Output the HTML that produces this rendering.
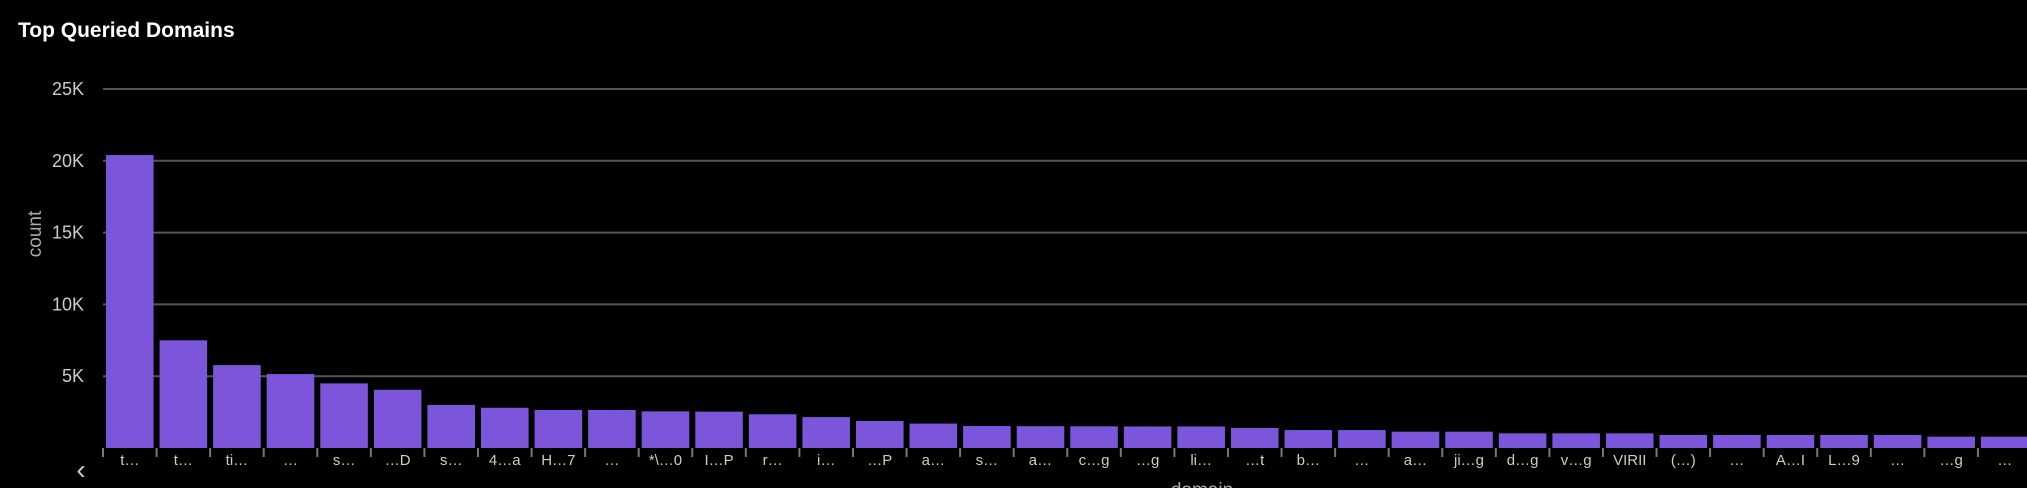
<!DOCTYPE html>
<html><head><meta charset="utf-8"><style>
html,body{margin:0;padding:0;background:#000;width:2027px;height:488px;overflow:hidden;font-family:"Liberation Sans",sans-serif}
</style></head><body>
<svg id="chart" width="2027" height="488" xmlns="http://www.w3.org/2000/svg">
<text x="18" y="37" fill="#fff" font-size="21" font-weight="bold">Top Queried Domains</text>
<text transform="translate(41,234) rotate(-90)" text-anchor="middle" fill="#aaa" font-size="19">count</text>
<text x="1202" y="496" text-anchor="middle" fill="#aaa" font-size="19">domain</text>
<text x="81" y="479" text-anchor="middle" fill="#ccc" font-size="28">‹</text>
<g id="grid"></g><g id="bars"></g><g id="xaxis"></g>
</svg>
<script>
const categories=["t…","t…","ti…","…","s…","…D","s…","4…a","H…7","…","*\\…0","I…P","r…","i…","…P","a…","s…","a…","c…g","…g","li…","…t","b…","…","a…","ji…g","d…g","v…g","VIRII","(…)","…","A…I","L…9","…","…g","…"];
const counts=[20400,7500,5770,5150,4500,4050,3000,2800,2650,2650,2550,2530,2350,2150,1880,1700,1530,1520,1510,1500,1500,1400,1250,1250,1135,1135,1020,1020,1020,905,905,905,905,905,790,790];
const yTicks=[0,5000,10000,15000,20000,25000];
const yTickLabels=["","5K","10K","15K","20K","25K"];
const NS="http://www.w3.org/2000/svg";
const x0=103,pitch=53.57,base=448,pxPerUnit=71.8/5000;
const y=v=>base-v*pxPerUnit;
const xs=i=>x0+i*pitch;
function mk(t,a,p){const e=document.createElementNS(NS,t);for(const k in a)e.setAttribute(k,a[k]);p.appendChild(e);return e;}
const g=document.getElementById('grid'),b=document.getElementById('bars'),xa=document.getElementById('xaxis');
yTicks.forEach((v,i)=>{
 if(v>0){const l=mk('line',{x1:x0,x2:2027,y1:y(v),y2:y(v),stroke:'#555','stroke-width':2},g);
 
 }
 if(yTickLabels[i]){const t=mk('text',{x:84,y:y(v)+6,'text-anchor':'end',fill:'#ccc','font-size':18},g);t.textContent=yTickLabels[i];
 
 }
});
counts.forEach((v,i)=>{
 const r=mk('rect',{x:xs(i)+3,y:y(v),width:pitch-6,height:base-y(v),fill:'#7b56db'},b);
 
 
 const tk=mk('line',{x1:xs(i),x2:xs(i),y1:base,y2:base+9,stroke:'#777','stroke-width':2},xa);
 
 
 const t=mk('text',{x:xs(i)+pitch/2,y:465,'text-anchor':'middle',fill:'#ccc','font-size':15},xa);t.textContent=categories[i];
 
 
});
</script>
</body></html>
